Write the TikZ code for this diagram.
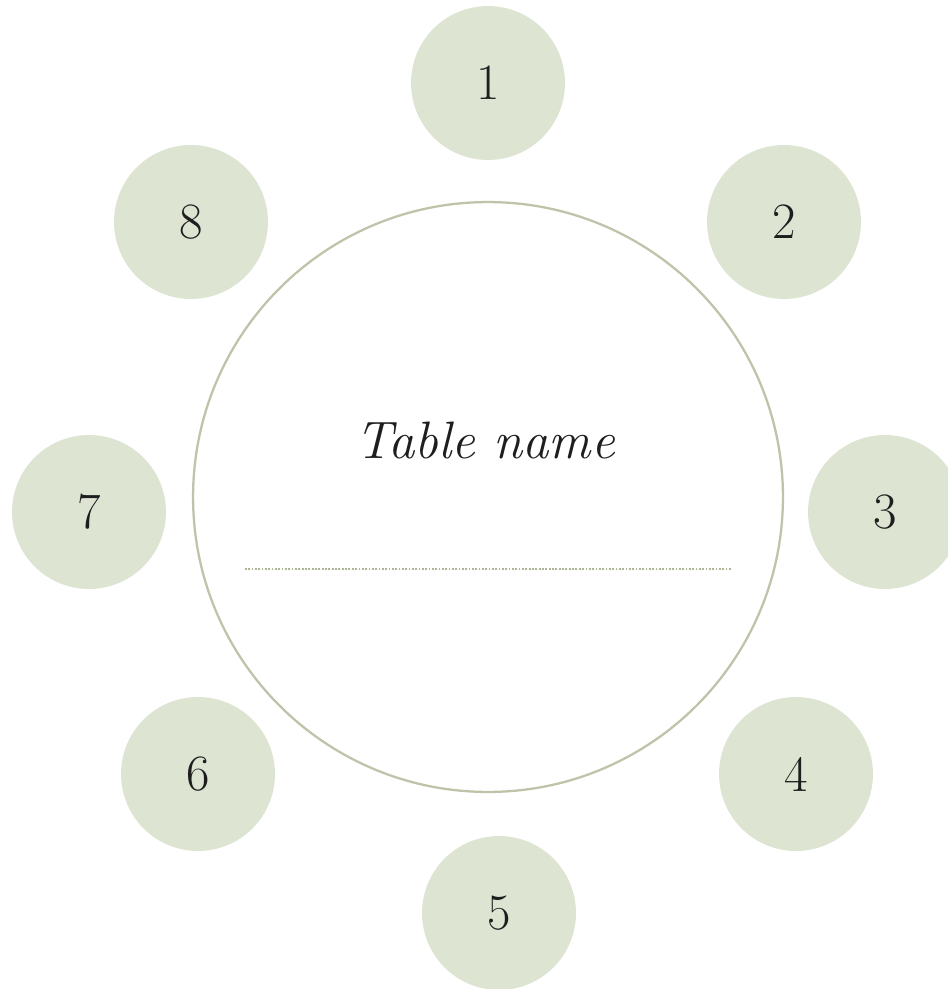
\documentclass[tikz,border=0pt]{standalone}
\usepackage{tikz}
\usetikzlibrary{positioning, calc}
\definecolor{seatfill}{RGB}{221, 228, 210}
\definecolor{tableborder}{RGB}{190, 196, 170}
\definecolor{dotline}{RGB}{170, 182, 148}
\definecolor{inktext}{RGB}{30, 30, 30}
\tikzset{
  seatblock/.style={
    circle, fill=seatfill, draw=none, minimum size=3.08cm,
    inner sep=0pt, text=inktext, font=\fontsize{29}{31}\selectfont
  },
  tableblock/.style={
    circle, draw=tableborder, line width=1.3pt, minimum size=11.8cm,
    inner sep=0pt
  },
  nameline/.style={
    draw=dotline, line width=1.1pt, dash pattern=on 1pt off 0.9pt
  }
}
\begin{document}
\begin{tikzpicture}[x=0.02cm, y=-0.02cm]

  % Page frame
  \useasboundingbox (0,0) rectangle (948,989);
  \clip (0,0) rectangle (948,989);

  % Table
  \node[tableblock] (table) at (488,497) {};
  \node[text=inktext, font=\itshape\fontsize{30}{32}\selectfont] (tname) at (485,440) {Table name};

  % Line for the name
  \coordinate (namel) at (245,569);
  \coordinate (namer) at (731,569);
  \draw[nameline] (namel) -- (namer);

  % Seats round the table
  \node[seatblock] (seat1) at (488,83) {1};
  \node[seatblock] (seat2) at (784,222) {2};
  \node[seatblock] (seat3) at (885,512) {3};
  \node[seatblock] (seat4) at (796,774) {4};
  \node[seatblock] (seat5) at (499,913) {5};
  \node[seatblock] (seat6) at (198,774) {6};
  \node[seatblock] (seat7) at (89,512) {7};
  \node[seatblock] (seat8) at (191,222) {8};

\end{tikzpicture}
\end{document}
